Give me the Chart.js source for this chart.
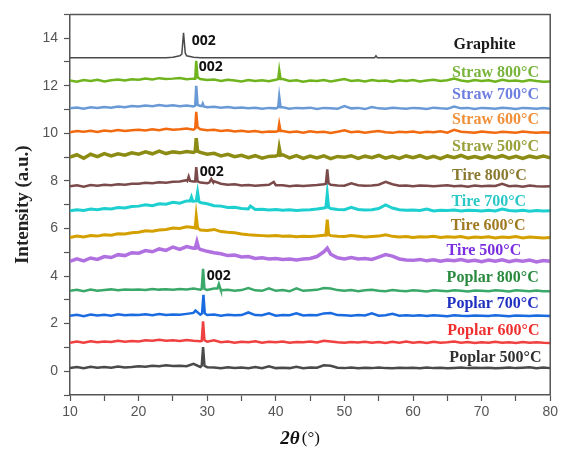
<!DOCTYPE html>
<html>
<head>
<meta charset="utf-8">
<script src="https://cdn.jsdelivr.net/npm/chart.js@4.4.1/dist/chart.umd.min.js"></script>
<style>
  body { margin: 0; background: #fff; }
</style>
</head>
<body>
<canvas id="xrd" width="561" height="453"></canvas>
<script>
// griglia 2theta (gradi), un punto ogni grado
const twoTheta = [10,11,12,13,14,15,16,17,18,19,20,21,22,23,24,25,26,27,28,29,30,31,32,33,34,35,36,37,38,39,40,
  41,42,43,44,45,46,47,48,49,50,51,52,53,54,55,56,57,58,59,60,61,62,63,64,65,66,67,68,69,70,71,72,73,74,75,76,77,78,79,80];

// nomi dei campioni (dall'alto verso il basso)
const samples = ["Graphite","Straw 800°C","Straw 700°C","Straw 600°C","Straw 500°C","Tire 800°C","Tire 700°C",
  "Tire 600°C","Tire 500°C","Poplar 800°C","Poplar 700°C","Poplar 600°C","Poplar 500°C"];

// spostamento verticale di ogni curva
const offsets = [13.18, 12.2, 11.05, 10.05, 9.0, 7.78, 6.74, 5.62, 4.62, 3.38, 2.33, 1.2, 0.13];

// intensita' relative sulla griglia
const graphite = [0,0,0,0,0,0,0,0,0,0, 0,0,0,0,0,0.02,0.08,0.08,0.02,0, 0,0,0,0,0,0,0,0,0,0,
  0,0,0,0,0,0,0,0,0,0, 0,0,0,0,0,0,0,0,0,0, 0,0,0,0,0,0,0,0,0,0, 0,0,0,0,0,0,0,0,0,0, 0];
const straw800 = [0.02,-0.03,0.04,0,0.05,-0.02,0.03,0.06,0.02,0.07, 0.05,0.1,0.06,0.12,0.08,0.1,0.13,0.07,0.1,0.08,
  0.04,0.06,0,0.05,0.02,-0.02,0.04,0,0.03,-0.01, 0.05,0.08,0,0.03,-0.03,0.02,0,0.04,-0.02,0.03,
  0.08,0,0.03,-0.02,0.04,0,0.02,-0.03,0.03,0, 0.04,-0.02,0.02,0.05,0,0.03,0.1,0.02,-0.02,0.04,
  0,0.03,-0.03,0.05,0,0.02,-0.02,0.04,0,-0.03, -0.02];
const straw700 = [0,0.04,-0.02,0.05,0.02,0.06,0.03,0.08,0.05,0.1, 0.08,0.12,0.09,0.14,0.1,0.13,0.09,0.12,0.08,0.1,
  0.05,0.07,0.03,0.06,0.02,0.04,0,0.03,-0.02,0.02, 0,0.05,-0.02,0.02,0,0.03,-0.03,0.02,0,-0.02,
  0.1,0,0.02,-0.03,0.06,0,-0.02,0.03,0,-0.02, 0.02,0,-0.03,0.03,0,-0.02,0.08,0,0.02,-0.03,
  0.02,0,-0.02,0.03,0,-0.03,0.02,0,-0.02,0.01, -0.02];
const straw600 = [0,0.05,0.02,0.06,0.01,0.07,0.04,0.09,0.05,0.08, 0.1,0.07,0.12,0.08,0.14,0.1,0.12,0.15,0.1,0.12,
  0.08,0.1,0.05,0.08,0.03,0.06,0.02,0.05,0,0.03, 0.02,0.05,0,0.03,-0.02,0.04,0,0.02,-0.03,0.02,
  0.08,0,0.03,-0.02,0.02,0.05,0,-0.03,0.02,0, 0.03,-0.02,0.02,0,0.04,-0.02,0.1,0.02,0,-0.02,
  0.03,0,-0.03,0.02,0,-0.02,0.03,0,-0.03,0, -0.03];
const straw500 = [0,0.1,-0.05,0.12,0.02,0.15,0.05,0.14,0.08,0.18, 0.12,0.22,0.14,0.25,0.15,0.22,0.18,0.24,0.2,0.2,
  0.12,0.16,0.05,0.12,0.02,0.08,-0.02,0.06,-0.04,0.03, 0.05,0.1,-0.03,0.06,-0.05,0.04,-0.03,0.05,-0.06,0.03,
  0,0.06,-0.05,0.04,-0.02,0.07,-0.04,0.03,-0.05,0.05, -0.02,0.06,-0.04,0.03,-0.06,0.05,-0.02,0.07,-0.04,0.02,
  -0.05,0.05,-0.02,0.06,-0.04,0.03,-0.05,0.04,-0.02,0.05, -0.03];
const tire800 = [0,0.04,-0.02,0.05,0.02,0.06,0.04,0.08,0.06,0.1, 0.1,0.14,0.12,0.16,0.14,0.18,0.2,0.25,0.2,0.15,
  0.12,0.2,0.1,0.06,0.08,0.03,0.05,0.02,0.04,0.06, 0.04,0.04,0,0.03,0.01,0.03,0.05,0.08,0.06,0.03,
  0.02,0.12,0.04,0.02,0.03,0.06,0.18,0.08,0.02,0.03, 0,0.03,0.02,0,0.02,0.04,0,0.02,-0.02,0.03,
  0,0.02,0.01,0.1,0,0.02,-0.02,0.03,0,-0.02, 0];
const tire700 = [0,0.05,0.02,0.08,0.05,0.1,0.08,0.14,0.12,0.18, 0.2,0.26,0.22,0.3,0.28,0.36,0.32,0.42,0.4,0.35,
  0.3,0.22,0.2,0.14,0.15,0.1,0.08,0.06,0.07,0.04, 0.06,0.03,0.05,0.02,0.04,0.05,0.08,0.12,0.1,0.06,
  0.05,0.15,0.06,0.04,0.05,0.1,0.25,0.12,0.05,0.03, 0.04,0.02,0.08,0,0.03,0.02,0.04,0,0.03,0.02,
  0,0.03,0,0.08,0.02,0,0.03,-0.01,0.02,0, 0.01];
const tire600 = [0,0.06,0.02,0.08,0.06,0.12,0.1,0.16,0.15,0.2, 0.22,0.28,0.26,0.32,0.34,0.4,0.38,0.45,0.42,0.32,
  0.3,0.34,0.25,0.22,0.2,0.15,0.12,0.1,0.08,0.06, 0.08,0.05,0.06,0.03,0.05,0.04,0.06,0.1,0.08,0.05,
  0.04,0.08,0.05,0.02,0.04,0.06,0.12,0.05,0.02,0.04, 0,0.03,0.02,0.05,0,0.03,0.01,0.04,-0.02,0.02,
  0,0.03,-0.02,0.02,0,0.04,-0.02,0.02,0,-0.02, 0];
const tire500 = [0,0.1,0.02,0.14,0.08,0.2,0.16,0.28,0.24,0.36, 0.34,0.45,0.4,0.52,0.46,0.6,0.5,0.62,0.55,0.5,
  0.42,0.36,0.32,0.24,0.26,0.18,0.2,0.12,0.15,0.1, 0.12,0.08,0.1,0.06,0.1,0.12,0.2,0.4,0.3,0.15,
  0.1,0.16,0.1,0.12,0.08,0.18,0.28,0.22,0.1,0.06, 0.04,0.08,0.02,0.06,0,0.05,0.02,0.07,0,0.04,
  -0.02,0.05,0,0.06,-0.02,0.04,0,0.05,-0.03,0.03, 0];
const poplar800 = [0,0.04,-0.02,0.05,0,0.03,0.06,0.02,0.05,0.04, 0.06,0.03,0.08,0.05,0.07,0.04,0.08,0.06,0.1,0.05,
  0.04,0.1,0.02,0.04,0,0.03,0.12,0.02,0,0.1, 0,0.03,-0.02,0.1,0,0.02,0.04,0.12,0.1,0.03,
  0,0.03,-0.02,0.02,0.04,0,-0.02,0.03,0,-0.02, 0.02,0,-0.03,0.02,0,-0.02,0.02,0,-0.03,0.01,
  0,-0.02,0.02,0,-0.03,0.02,0,-0.02,0.01,-0.02, -0.02];
const poplar700 = [0,0.04,-0.02,0.05,0.01,0.04,0,0.06,0.02,0.04, 0.03,0.06,0.02,0.07,0.03,0.05,0.04,0.08,0.12,0.05,
  0.03,0.05,0,0.04,0.02,0.03,0.14,0.03,0.02,0.1, 0,0.03,0.02,0.1,0.01,0.03,0.02,0.1,0.12,0.03,
  0.02,0,0.03,0.01,0.1,0,0.02,0.08,0,0.02, 0,0.02,-0.01,0.02,0,-0.02,0.02,0,-0.01,0.01,
  0,-0.01,0.02,0,-0.02,0.01,0,-0.01,0.01,0, -0.01];
const poplar600 = [0,0.05,0,0.06,0.02,0.05,0.03,0.08,0.04,0.07, 0.05,0.1,0.08,0.12,0.08,0.1,0.07,0.11,0.08,0.06,
  0.04,0.1,0.02,0.05,0,0.04,0.02,0.06,0,0.04, 0.02,0.05,0,0.03,0.02,0.05,0.01,0.08,0.05,0.02,
  0,0.03,0.01,0.04,0,0.03,-0.01,0.04,0,0.05, 0,0.03,-0.01,0.04,0,0.02,0.05,0,0.03,-0.01,
  0.02,0,0.04,0,0.02,-0.01,0.03,0,0.02,0, -0.01];
const poplar500 = [0,0.05,0,0.06,0.02,0.05,0.02,0.07,0.03,0.05, 0.08,0.06,0.1,0.08,0.12,0.09,0.1,0.08,0.18,0.05,
  0.04,0.03,0,0.04,0.01,0.03,0,0.05,0,0.08, 0,0.02,0,0.06,0,0.03,0.02,0.12,0.1,0.02,
  0,0.03,-0.01,0.02,0,0.03,0,-0.01,0.02,0, 0.02,-0.01,0.03,0,0.02,-0.01,0.01,0.03,0,0.02,
  0,0.02,-0.01,0.01,0.03,0,0.02,0.04,0,0.03, 0];

// punti dei picchi stretti [2theta, intensita']
const graphitePeaks = [[26.3,0.15],[26.55,1.05],[26.8,0.2],[54.4,0],[54.6,0.08],[54.8,0]];
const straw800Peaks = [[28.25,0.1],[28.4,0.85],[28.6,0.15],[40.35,0.08],[40.5,0.45],[40.7,0.08]];
const straw700Peaks = [[28.25,0.12],[28.4,0.95],[28.6,0.15],[29.2,0.1],[29.35,0.2],[29.5,0.08],[40.35,0.05],[40.5,0.5],[40.7,0.05]];
const straw600Peaks = [[28.25,0.15],[28.4,0.85],[28.6,0.2],[40.35,0.05],[40.5,0.35],[40.7,0.05]];
const straw500Peaks = [[28.25,0.25],[28.4,0.8],[28.6,0.25],[40.35,0.08],[40.5,0.38],[40.7,0.08]];
const tire800Peaks = [[27.1,0.22],[27.3,0.4],[27.5,0.22],[28.25,0.2],[28.4,0.8],[28.6,0.2],[30.3,0.15],[30.6,0.3],[30.9,0.15],
  [39.7,0.18],[47.3,0.1],[47.5,0.7],[47.7,0.12]];
const tire700Peaks = [[27.5,0.42],[27.7,0.58],[27.9,0.4],[28.4,0.42],[28.6,0.78],[28.8,0.4],[36.3,0.2],[47.3,0.15],[47.5,0.72],[47.7,0.15]];
const tire600Peaks = [[28.25,0.4],[28.4,0.9],[28.6,0.4],[47.3,0.1],[47.5,0.75],[47.7,0.12]];
const tire500Peaks = [[28.25,0.55],[28.5,0.82],[28.75,0.55],[47.5,0.55]];
const poplar800Peaks = [[29.2,0.08],[29.4,0.92],[29.6,0.08],[31.5,0.1],[31.7,0.28],[31.9,0.1]];
const poplar700Peaks = [[28.3,0.22],[29.25,0.1],[29.45,0.88],[29.65,0.1]];
const poplar600Peaks = [[29.2,0.08],[29.4,0.9],[29.6,0.1]];
const poplar500Peaks = [[29.2,0.1],[29.4,0.88],[29.6,0.1]];

const seriesValues = [graphite, straw800, straw700, straw600, straw500, tire800, tire700, tire600, tire500,
  poplar800, poplar700, poplar600, poplar500];
const seriesPeaks = [graphitePeaks, straw800Peaks, straw700Peaks, straw600Peaks, straw500Peaks, tire800Peaks,
  tire700Peaks, tire600Peaks, tire500Peaks, poplar800Peaks, poplar700Peaks, poplar600Peaks, poplar500Peaks];

// colori linee e testi
const lineColors = ["#4a4a4a","#6fb41f","#6a9ad6","#f26a10","#8c8c14","#7b4a4a","#1ecfcf","#d4a000","#b070e0",
  "#3aa868","#1a6ae0","#f04040","#4a4a4a"];
const textColors = ["#1a1a1a","#78b43c","#6f7fe0","#f0903a","#9aa03a","#8a7a30","#2cc8c8","#a07a20","#7b2ee0",
  "#2a8a40","#2030c0","#f03030","#303030"];
const lineWidths = [1.5, 2.5, 2.5, 2.5, 3.5, 2.5, 3, 3, 3.5, 2.5, 2.5, 2.5, 2.5];

// posizione delle etichette (in coordinate dei dati)
const labelX = [65.9, 65.7, 65.7, 65.7, 65.7, 65.7, 65.6, 65.5, 64.9, 64.9, 64.9, 65.0, 65.3];
const labelY = [13.71, 12.53, 11.61, 10.58, 9.44, 8.23, 7.14, 6.10, 5.05, 3.94, 2.84, 1.68, 0.55];
const peakTagX = [27.76, 28.78, 28.92, 29.94];
const peakTagY = [13.87, 12.78, 8.37, 4.01];

// costruisco i dataset unendo griglia e picchi
const datasets = samples.map((name, i) => {
  const pts = twoTheta.map((x, k) => ({ x: x, y: seriesValues[i][k] + offsets[i] }));
  seriesPeaks[i].forEach(p => pts.push({ x: p[0], y: p[1] + offsets[i] }));
  pts.sort((a, b) => a.x - b.x);
  return {
    label: name,
    data: pts,
    borderColor: lineColors[i],
    borderWidth: lineWidths[i],
    pointRadius: 0,
    tension: 0,
    fill: false
  };
});

// etichette dei campioni e "002"
const labelsPlugin = {
  id: "labelsPlugin",
  afterDatasetsDraw(chart) {
    const { ctx, scales } = chart;
    ctx.save();
    ctx.textBaseline = "middle";
    ctx.textAlign = "left";
    ctx.font = "bold 16px 'Liberation Serif'";
    samples.forEach((name, i) => {
      ctx.fillStyle = textColors[i];
      ctx.fillText(name, scales.x.getPixelForValue(labelX[i]), scales.y.getPixelForValue(labelY[i]));
    });
    ctx.font = "bold 14px 'Open Sans'";
    ctx.fillStyle = "#111";
    peakTagX.forEach((x, i) => {
      ctx.fillText("002", scales.x.getPixelForValue(x), scales.y.getPixelForValue(peakTagY[i]));
    });
    // cornice sopra e a destra
    const a = chart.chartArea;
    ctx.strokeStyle = "#555";
    ctx.lineWidth = 1.5;
    ctx.beginPath();
    ctx.moveTo(a.left, a.top);
    ctx.lineTo(a.right, a.top);
    ctx.lineTo(a.right, a.bottom);
    ctx.stroke();
    // titolo asse x: 2θ (°)
    const cx = (a.left + a.right) / 2 - 10;
    const ty = 439;
    ctx.fillStyle = "#111";
    ctx.font = "italic bold 19px 'Liberation Serif'";
    const w1 = ctx.measureText("2θ").width;
    ctx.font = "17px 'Liberation Serif'";
    const w2 = ctx.measureText("(°)").width;
    const x0 = cx - (w1 + w2 + 2) / 2;
    ctx.font = "italic bold 19px 'Liberation Serif'";
    ctx.fillText("2θ", x0, ty);
    ctx.font = "17px 'Liberation Serif'";
    ctx.fillText("(°)", x0 + w1 + 2, ty);
    ctx.restore();
  }
};

new Chart(document.getElementById("xrd"), {
  type: "line",
  data: { datasets: datasets },
  options: {
    responsive: false,
    animation: false,
    layout: { padding: { top: 12, right: 10, left: 0, bottom: 0 } },
    plugins: {
      legend: { display: false },
      tooltip: { enabled: false }
    },
    scales: {
      x: {
        type: "linear",
        min: 10,
        max: 80,
        afterFit: s => { s.height = 58; },
        ticks: {
          stepSize: 5,
          autoSkip: false,
          maxRotation: 0,
          padding: 3,
          color: "#555",
          font: { family: "'Liberation Sans'", size: 14 },
          callback: v => (v % 10 === 0 ? v : "")
        },
        grid: {
          drawOnChartArea: false,
          tickLength: 6,
          tickColor: "#555",
          tickWidth: 1.2
        },
        border: { color: "#555", width: 1.5 }
      },
      y: {
        min: -1,
        max: 15,
        afterFit: s => { s.width = 70; },
        ticks: {
          stepSize: 1,
          autoSkip: false,
          padding: 6,
          color: "#555",
          font: { family: "'Liberation Sans'", size: 14 },
          callback: v => (v >= 0 && v % 2 === 0 ? v : "")
        },
        grid: {
          drawOnChartArea: false,
          tickLength: 6,
          tickColor: "#555",
          tickWidth: 1.2
        },
        border: { color: "#555", width: 1.5 },
        title: {
          display: true,
          text: "Intensity (a.u.)",
          color: "#222",
          padding: { top: 12, bottom: 0 },
          font: { family: "'Liberation Serif'", size: 19, weight: "bold" }
        }
      }
    }
  },
  plugins: [labelsPlugin]
});
</script>
</body>
</html>
